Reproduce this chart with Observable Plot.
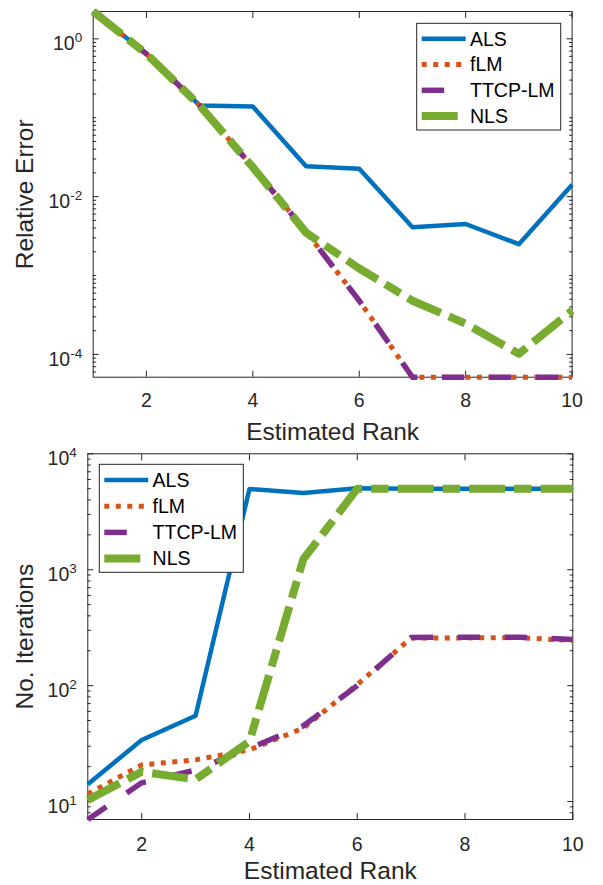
<!DOCTYPE html>
<html><head><meta charset="utf-8">
<script src="https://cdn.jsdelivr.net/npm/d3@7"></script>
<script src="https://cdn.jsdelivr.net/npm/@observablehq/plot@0.6"></script>
<style>
html,body{margin:0;padding:0;background:#fff;}
#wrap{position:relative;width:603px;height:885px;overflow:hidden;font-family:"Liberation Sans",Arial,sans-serif;background:#fff;}
#wrap svg{position:absolute;left:0;overflow:visible;}
</style></head><body><div id="wrap"></div>
<script>
// ---- data ----
const ranks = [1, 2, 3, 4, 5, 6, 7, 8, 9, 10];
const seriesNames = ["ALS", "fLM", "TTCP-LM", "NLS"];

const errALS  = [2.22, 0.645, 0.143, 0.139, 0.0243, 0.0225, 0.0041, 0.0045, 0.0025, 0.0141];
const errFLM  = [2.22, 0.645, 0.143, 0.0236, 0.0036, 0.00048, 5.15e-5, 5.15e-5, 5.15e-5, 5.15e-5];
const errTTCP = [2.22, 0.645, 0.143, 0.0236, 0.0036, 0.00048, 5.15e-5, 5.15e-5, 5.15e-5, 5.15e-5];
const errNLS  = [2.22, 0.645, 0.143, 0.0236, 0.0035, 0.00123, 0.00048, 0.000246, 0.000102, 0.00036];

const iterALS  = [14.1, 34, 55, 4980, 4590, 5040, 5000, 5000, 5000, 5000];
const iterFLM  = [11.6, 20.7, 22.9, 27.9, 43, 102, 258, 258, 260, 245];
const iterTTCP = [7.0, 14.5, 18.7, 28.8, 45, 100, 260, 262, 262, 250];
const iterNLS  = [10.3, 18.1, 15.5, 33, 1233, 5000, 5000, 5000, 5000, 5000];

const xTicks = [2, 4, 6, 8, 10];
const errTicks = [1e-4, 1e-2, 1];
const iterTicks = [1e1, 1e2, 1e3, 1e4];
const errDomain = [5.15e-5, 2.22];
const iterDomain = [7.0, 1e4];
const xLabel = "Estimated Rank";
const errLabel = "Relative Error";
const iterLabel = "No. Iterations";

// ---- styles ----
const seriesStyle = {
  "ALS":     {stroke: "#0072BD", width: 4.5, dash: null},
  "fLM":     {stroke: "#D95319", width: 5,   dash: "5,6.5"},
  "TTCP-LM": {stroke: "#7E2F8E", width: 5.5, dash: "22.5,24.5"},
  "NLS":     {stroke: "#77AC30", width: 8,   dash: "36,9,17.5,9"}
};
const AX = "#262626";

function minorTicks(domain, majors) {
  const out = [];
  const k0 = Math.floor(Math.log10(domain[0])), k1 = Math.ceil(Math.log10(domain[1]));
  for (let k = k0; k <= k1; k++) for (let m = 1; m <= 9; m++) {
    const v = +(m * Math.pow(10, k)).toPrecision(6);
    if (v >= domain[0] && v <= domain[1] && !majors.some(t => Math.abs(t - v) / v < 1e-9)) out.push(v);
  }
  return out;
}

function panel(cfg) {
  const series = [cfg.a, cfg.b, cfg.c, cfg.d];
  const lines = seriesNames.map((name, i) => {
    const rows = ranks.map((r, j) => ({rank: r, value: series[i][j]}));
    const s = seriesStyle[name];
    return Plot.line(rows, {x: "rank", y: "value", stroke: s.stroke, strokeWidth: s.width,
      strokeDasharray: s.dash == null ? undefined : s.dash, strokeLinejoin: "round", strokeLinecap: "butt"});
  });
  const minor = minorTicks(cfg.domain, cfg.ticks);
  const tickOnly = {fill: "none", label: null};
  const svg = Plot.plot({
    width: 603, height: cfg.height,
    marginLeft: cfg.ml, marginRight: cfg.mr, marginTop: cfg.mt, marginBottom: cfg.mb,
    style: {fontFamily: '"Liberation Sans", Arial, sans-serif', fontSize: "19.5px", color: AX, background: "transparent", overflow: "visible"},
    x: {domain: [1, 10]},
    y: {type: "log", domain: cfg.domain},
    marks: [
      Plot.frame({stroke: AX, strokeWidth: 1}),
      Plot.axisX({anchor: "bottom", ticks: xTicks, tickSize: 0, tickPadding: cfg.xpad, tickFormat: d => String(d), label: null, fontSize: 19.5}),
      Plot.axisX({anchor: "bottom", ticks: xTicks, tickSize: -6, ...tickOnly}),
      Plot.axisX({anchor: "top", ticks: xTicks, tickSize: -6, ...tickOnly}),
      Plot.axisY({anchor: "left", ticks: cfg.ticks, tickSize: 0, tickPadding: 11, dy: 5,
        tickFormat: d => "10^" + Math.round(Math.log10(d)), label: null, fontSize: 19.5}),
      Plot.axisY({anchor: "left", ticks: cfg.ticks, tickSize: -6, ...tickOnly}),
      Plot.axisY({anchor: "left", ticks: minor, tickSize: -3.5, ...tickOnly}),
      Plot.axisY({anchor: "right", ticks: cfg.ticks, tickSize: -6, ...tickOnly}),
      Plot.axisY({anchor: "right", ticks: minor, tickSize: -3.5, ...tickOnly}),
      ...lines,
      Plot.text([xLabel], {frameAnchor: "bottom", textAnchor: "middle", lineAnchor: "middle", dy: cfg.xlabelDy,
        text: d => d, fontSize: 24.5, fill: AX}),
      Plot.text([cfg.ylabel], {frameAnchor: "left", textAnchor: "middle", lineAnchor: "middle", dx: 25 - cfg.ml,
        rotate: -90, text: d => d, fontSize: 24.5, fill: AX})
    ]
  });
  // superscript exponents on log tick labels
  svg.querySelectorAll('g[aria-label="y-axis tick label"] text').forEach(el => {
    const m = /^10\^(-?\d+)$/.exec(el.textContent);
    if (!m) return;
    el.textContent = "10";
    const ts = document.createElementNS("http://www.w3.org/2000/svg", "tspan");
    ts.setAttribute("dy", "-8");
    ts.setAttribute("font-size", "13.5");
    ts.textContent = m[1];
    el.appendChild(ts);
  });
  svg.style.top = cfg.top + "px";
  return svg;
}

const wrap = document.getElementById("wrap");
wrap.appendChild(panel({a: errALS, b: errFLM, c: errTTCP, d: errNLS, domain: errDomain, ticks: errTicks,
  ylabel: errLabel, top: 0, height: 452, ml: 92.7, mr: 31.4, mt: 11, mb: 75.3, xpad: 16, xlabelDy: 55}));
wrap.appendChild(panel({a: iterALS, b: iterFLM, c: iterTTCP, d: iterNLS, domain: iterDomain, ticks: iterTicks,
  ylabel: iterLabel, top: 442, height: 443, ml: 87.3, mr: 30.7, mt: 11.3, mb: 66, xpad: 17.5, xlabelDy: 52}));

// ---- legends ----
const legendBoxes = [
  {x: 416.7, y: 23.3, w: 144, h: 106.7, row0: 15.4, step: 25.8},
  {x: 99.3, y: 464.3, w: 144, h: 108, row0: 15.7, step: 26.2}
];
const ov = d3.select(wrap).append("svg").attr("width", 603).attr("height", 885)
  .style("top", "0px").style("pointer-events", "none");
legendBoxes.forEach(b => {
  const g = ov.append("g");
  g.append("rect").attr("x", b.x).attr("y", b.y).attr("width", b.w).attr("height", b.h)
    .attr("fill", "#fff").attr("stroke", AX).attr("stroke-width", 1);
  seriesNames.forEach((name, i) => {
    const s = seriesStyle[name];
    const yy = b.y + b.row0 + i * b.step;
    g.append("line").attr("x1", b.x + 5).attr("x2", b.x + 49).attr("y1", yy).attr("y2", yy)
      .attr("stroke", s.stroke).attr("stroke-width", s.width)
      .attr("stroke-dasharray", s.dash).attr("stroke-linecap", "butt");
    g.append("text").attr("x", b.x + 53.3).attr("y", yy).attr("dy", "0.35em")
      .attr("font-size", 19.5).attr("font-family", '"Liberation Sans", Arial, sans-serif')
      .attr("fill", "#000").text(name);
  });
});
</script></body></html>
